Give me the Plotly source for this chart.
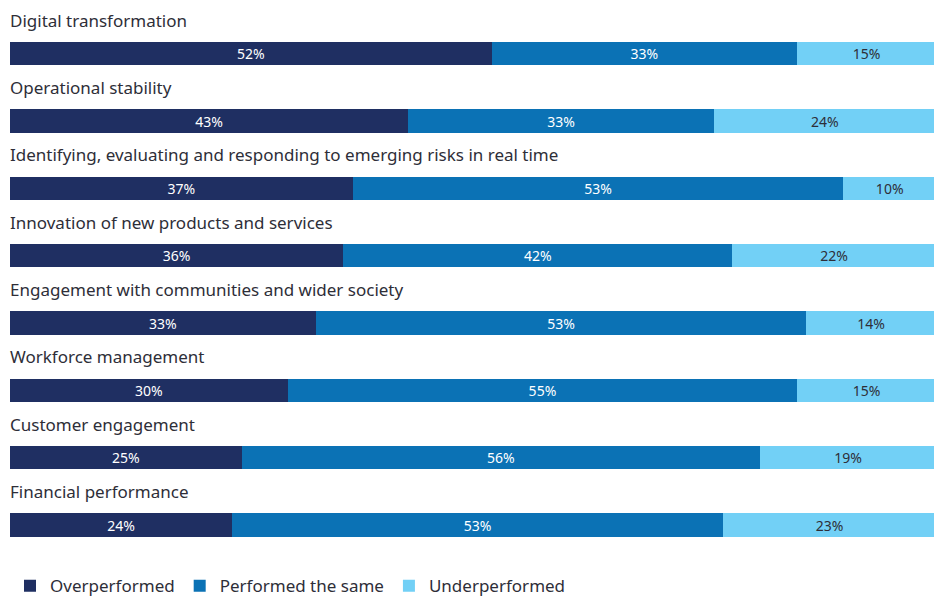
import plotly.graph_objects as go

categories = [
    "Digital transformation",
    "Operational stability",
    "Identifying, evaluating and responding to emerging risks in real time",
    "Innovation of new products and services",
    "Engagement with communities and wider society",
    "Workforce management",
    "Customer engagement",
    "Financial performance",
]
overperformed = [52, 43, 37, 36, 33, 30, 25, 24]
performed_same = [33, 33, 53, 42, 53, 55, 56, 53]
underperformed = [15, 24, 10, 22, 14, 15, 19, 23]

series = [
    ("Overperformed", overperformed, "#1f2f62", "#ffffff"),
    ("Performed the same", performed_same, "#0b72b5", "#ffffff"),
    ("Underperformed", underperformed, "#72d0f6", "#2e2e38"),
]

FONT = "Noto Sans"

fig = go.Figure()
for name, vals, color, tcolor in series:
    fig.add_trace(go.Bar(
        y=categories, x=vals, name=name, orientation="h",
        marker=dict(color=color, line=dict(width=0)),
        text=[f"{v}%" for v in vals], textposition="inside",
        insidetextanchor="middle",
        textfont=dict(family=FONT, size=14, color=tcolor),
        hoverinfo="skip",
    ))

for c in categories:
    fig.add_annotation(
        x=0, xref="paper", y=c, yref="y", xanchor="left", yanchor="bottom",
        yshift=20, xshift=-2, text=c, showarrow=False,
        font=dict(family=FONT, size=17, color="#2e2e38"),
    )

fig.update_layout(
    barmode="stack",
    width=934, height=599,
    margin=dict(l=2, r=6, t=12, b=35, autoexpand=False),
    plot_bgcolor="white", paper_bgcolor="white",
    bargap=0.65,
    showlegend=True,
    legend=dict(orientation="h", x=0, xanchor="left", y=0.007, yanchor="top",
                font=dict(family=FONT, size=17, color="#2e2e38"),
                itemclick=False, traceorder="normal"),
    xaxis=dict(range=[0, 100], visible=False, fixedrange=True),
    yaxis=dict(autorange="reversed", visible=False, fixedrange=True),
    uniformtext=dict(mode="show", minsize=14),
)

fig.write_html("out.html")
